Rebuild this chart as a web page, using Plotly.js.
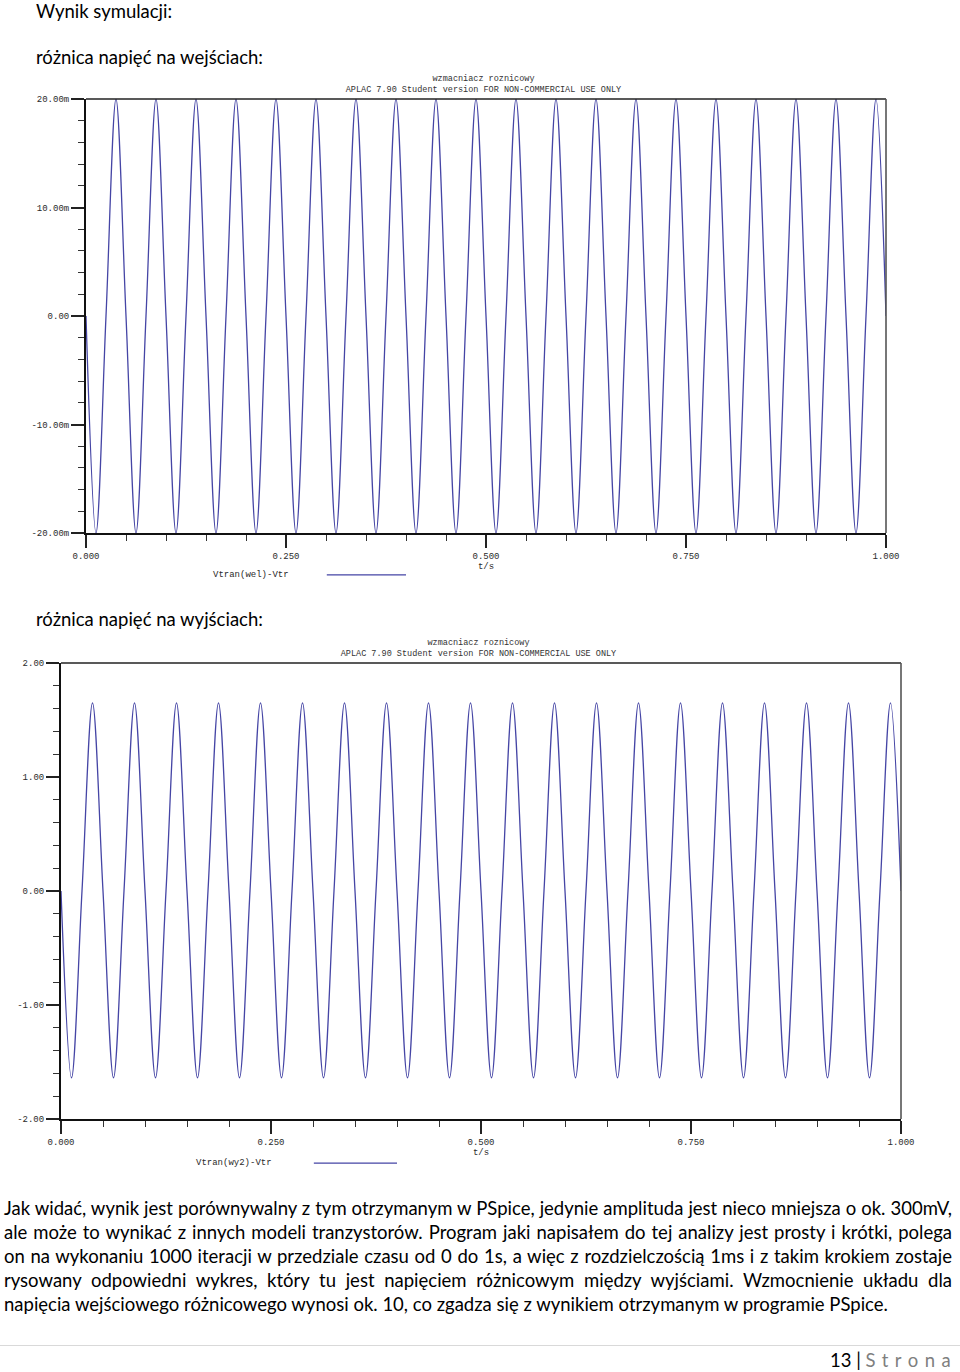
<!DOCTYPE html>
<html>
<head>
<meta charset="utf-8">
<script src="https://cdn.plot.ly/plotly-3.0.1.min.js"></script>
<style>
  html, body { margin: 0; padding: 0; background: #fff; }
  #page { position: relative; width: 960px; height: 1372px; overflow: hidden; font-family: Lato, "Noto Sans", sans-serif; color: #000; }
  .txt { position: absolute; white-space: nowrap; font-size: 18.5px; line-height: 22px; z-index: 2; }
  .just { position: absolute; left: 4px; width: 948px; font-size: 18.5px; line-height: 22px; text-align: justify; text-align-last: justify; white-space: nowrap; }
  .left { position: absolute; left: 4px; font-size: 18.5px; line-height: 22px; white-space: nowrap; }
  #chart1 { position: absolute; left: 0; top: 60px; width: 960px; height: 530px; z-index: 1; }
  #chart2 { position: absolute; left: 0; top: 630px; width: 960px; height: 550px; z-index: 1; }
  #footline { position: absolute; left: 0; top: 1345px; width: 960px; height: 1px; background: #d9d9d9; }
  #footer { position: absolute; left: 830px; top: 1349px; font-size: 18.5px; line-height: 22px; white-space: nowrap; }
  #footer .s { color: #7f7f7f; letter-spacing: 6.5px; }
</style>
</head>
<body>
<div id="page">
  <div class="txt" style="left:36px; top:2px; line-height:19px;">Wynik symulacji:</div>
  <div class="txt" style="left:36px; top:46px;">różnica napięć na wejściach:</div>
  <div id="chart1"></div>
  <div class="txt" style="left:36px; top:608px;">różnica napięć na wyjściach:</div>
  <div id="chart2"></div>
  <div class="just" style="top:1197px;">Jak widać, wynik jest porównywalny z tym otrzymanym w PSpice, jedynie amplituda jest nieco mniejsza o ok. 300mV,</div>
  <div class="just" style="top:1221px;">ale może to wynikać z innych modeli tranzystorów. Program jaki napisałem do tej analizy jest prosty i krótki, polega</div>
  <div class="just" style="top:1245px;">on na wykonaniu 1000 iteracji w przedziale czasu od 0 do 1s, a więc z rozdzielczością 1ms i z takim krokiem zostaje</div>
  <div class="just" style="top:1269px;">rysowany odpowiedni wykres, który tu jest napięciem różnicowym między wyjściami. Wzmocnienie układu dla</div>
  <div class="left" style="top:1293px;">napięcia wejściowego różnicowego wynosi ok. 10, co zgadza się z wynikiem otrzymanym w programie PSpice.</div>
  <div id="footline"></div>
  <div id="footer">13 | <span class="s">Strona</span></div>
</div>
<script>
// ---- data ----
const timeS = [0, 0.0125, 0.025, 0.0375, 0.05, 0.0625, 0.075, 0.0875, 0.1, 0.1125,
  0.125, 0.1375, 0.15, 0.1625, 0.175, 0.1875, 0.2, 0.2125, 0.225, 0.2375,
  0.25, 0.2625, 0.275, 0.2875, 0.3, 0.3125, 0.325, 0.3375, 0.35, 0.3625,
  0.375, 0.3875, 0.4, 0.4125, 0.425, 0.4375, 0.45, 0.4625, 0.475, 0.4875,
  0.5, 0.5125, 0.525, 0.5375, 0.55, 0.5625, 0.575, 0.5875, 0.6, 0.6125,
  0.625, 0.6375, 0.65, 0.6625, 0.675, 0.6875, 0.7, 0.7125, 0.725, 0.7375,
  0.75, 0.7625, 0.775, 0.7875, 0.8, 0.8125, 0.825, 0.8375, 0.85, 0.8625,
  0.875, 0.8875, 0.9, 0.9125, 0.925, 0.9375, 0.95, 0.9625, 0.975, 0.9875, 1.0];

// input differential voltage, mV
const vInput_mV = [0, -20, 0, 20, 0, -20, 0, 20, 0, -20,
  0, 20, 0, -20, 0, 20, 0, -20, 0, 20,
  0, -20, 0, 20, 0, -20, 0, 20, 0, -20,
  0, 20, 0, -20, 0, 20, 0, -20, 0, 20,
  0, -20, 0, 20, 0, -20, 0, 20, 0, -20,
  0, 20, 0, -20, 0, 20, 0, -20, 0, 20,
  0, -20, 0, 20, 0, -20, 0, 20, 0, -20,
  0, 20, 0, -20, 0, 20, 0, -20, 0, 20, 0];

// output differential voltage, V
const vOutput = [0, -1.64, 0, 1.65, 0, -1.64, 0, 1.65, 0, -1.64,
  0, 1.65, 0, -1.64, 0, 1.65, 0, -1.64, 0, 1.65,
  0, -1.64, 0, 1.65, 0, -1.64, 0, 1.65, 0, -1.64,
  0, 1.65, 0, -1.64, 0, 1.65, 0, -1.64, 0, 1.65,
  0, -1.64, 0, 1.65, 0, -1.64, 0, 1.65, 0, -1.64,
  0, 1.65, 0, -1.64, 0, 1.65, 0, -1.64, 0, 1.65,
  0, -1.64, 0, 1.65, 0, -1.64, 0, 1.65, 0, -1.64,
  0, 1.65, 0, -1.64, 0, 1.65, 0, -1.64, 0, 1.65, 0];

const xTickVals = [0, 0.25, 0.5, 0.75, 1.0];
const xTickText = ["0.000", "0.250", "0.500", "0.750", "1.000"];
const y1TickVals = [-20, -10, 0, 10, 20];
const y1TickText = ["-20.00m", "-10.00m", "0.00", "10.00m", "20.00m"];
const y2TickVals = [-2, -1, 0, 1, 2];
const y2TickText = ["-2.00", "-1.00", "0.00", "1.00", "2.00"];
const chartTitle = "wzmacniacz roznicowy<br>APLAC 7.90 Student version FOR NON-COMMERCIAL USE ONLY";
const name1 = "Vtran(wel)-Vtr";
const name2 = "Vtran(wy2)-Vtr";

// ---- styling ----
const mono = { family: "Liberation Mono, DejaVu Sans Mono, monospace", size: 9, color: "#2a2a2a" };
const lineColor = "#4545a5";

function makeChart(id, yVals, yTickVals, yTickText, yRange, yMinor, name, margins, titleY, titleX, H) {
  const trace = {
    x: timeS, y: yVals, type: "scatter", mode: "lines", name: name,
    line: { color: lineColor, width: 1.3, shape: "spline", smoothing: 1 },
    showlegend: false, hoverinfo: "skip"
  };
  const layout = {
    width: 960, height: H,
    margin: margins,
    paper_bgcolor: "rgba(0,0,0,0)", plot_bgcolor: "#fff",
    title: { text: chartTitle, font: { family: mono.family, size: 8.5, color: "#333" },
             x: titleX, xanchor: "center", y: titleY, yanchor: "middle", yref: "container" },
    xaxis: {
      range: [0, 1], tickvals: xTickVals, ticktext: xTickText,
      showgrid: false, zeroline: false, showline: true, linewidth: 2, linecolor: "#111",
      ticks: "outside", ticklen: 13, tickwidth: 2, tickcolor: "#222",
      minor: { dtick: 0.05, ticks: "outside", ticklen: 6, tickwidth: 1, tickcolor: "#333", showgrid: false },
      tickfont: mono,
      title: { text: "t/s", font: mono, standoff: 0 }
    },
    yaxis: {
      range: yRange, tickvals: yTickVals, ticktext: yTickText,
      showgrid: false, zeroline: false, showline: true, linewidth: 2, linecolor: "#111",
      ticks: "outside", ticklen: 13, tickwidth: 2, tickcolor: "#222",
      minor: { dtick: yMinor, ticks: "outside", ticklen: 6, tickwidth: 1, tickcolor: "#333", showgrid: false },
      tickfont: mono, ticklabelstandoff: 0
    },
    shapes: [
      { type: "line", xref: "paper", yref: "paper", x0: 0, x1: 1, y0: 1, y1: 1, line: { color: "#222", width: 1.6 } },
      { type: "line", xref: "paper", yref: "paper", x0: 1, x1: 1, y0: 0, y1: 1, line: { color: "#555", width: 1.6 } },
      { type: "line", xref: "paper", yref: "paper", x0: 0.301, x1: 0.4, y0: -0.0966, y1: -0.0966, line: { color: lineColor, width: 1.2 } }
    ],
    annotations: [
      { text: name, xref: "paper", yref: "paper", x: 0.206, y: -0.0966, xanchor: "center", yanchor: "middle",
        showarrow: false, font: mono }
    ]
  };
  Plotly.newPlot(id, [trace], layout, { staticPlot: true, displayModeBar: false });
}

makeChart("chart1", vInput_mV, y1TickVals, y1TickText, [-20, 20], 2, name1,
  { l: 86, r: 74, t: 39, b: 57 }, 1 - 20.5 / 530, 483.5 / 960, 530);
makeChart("chart2", vOutput, y2TickVals, y2TickText, [-2, 2], 0.2, name2,
  { l: 61, r: 59, t: 33, b: 61 }, 1 - 14.5 / 550, 478.5 / 960, 550);
</script>
</body>
</html>
